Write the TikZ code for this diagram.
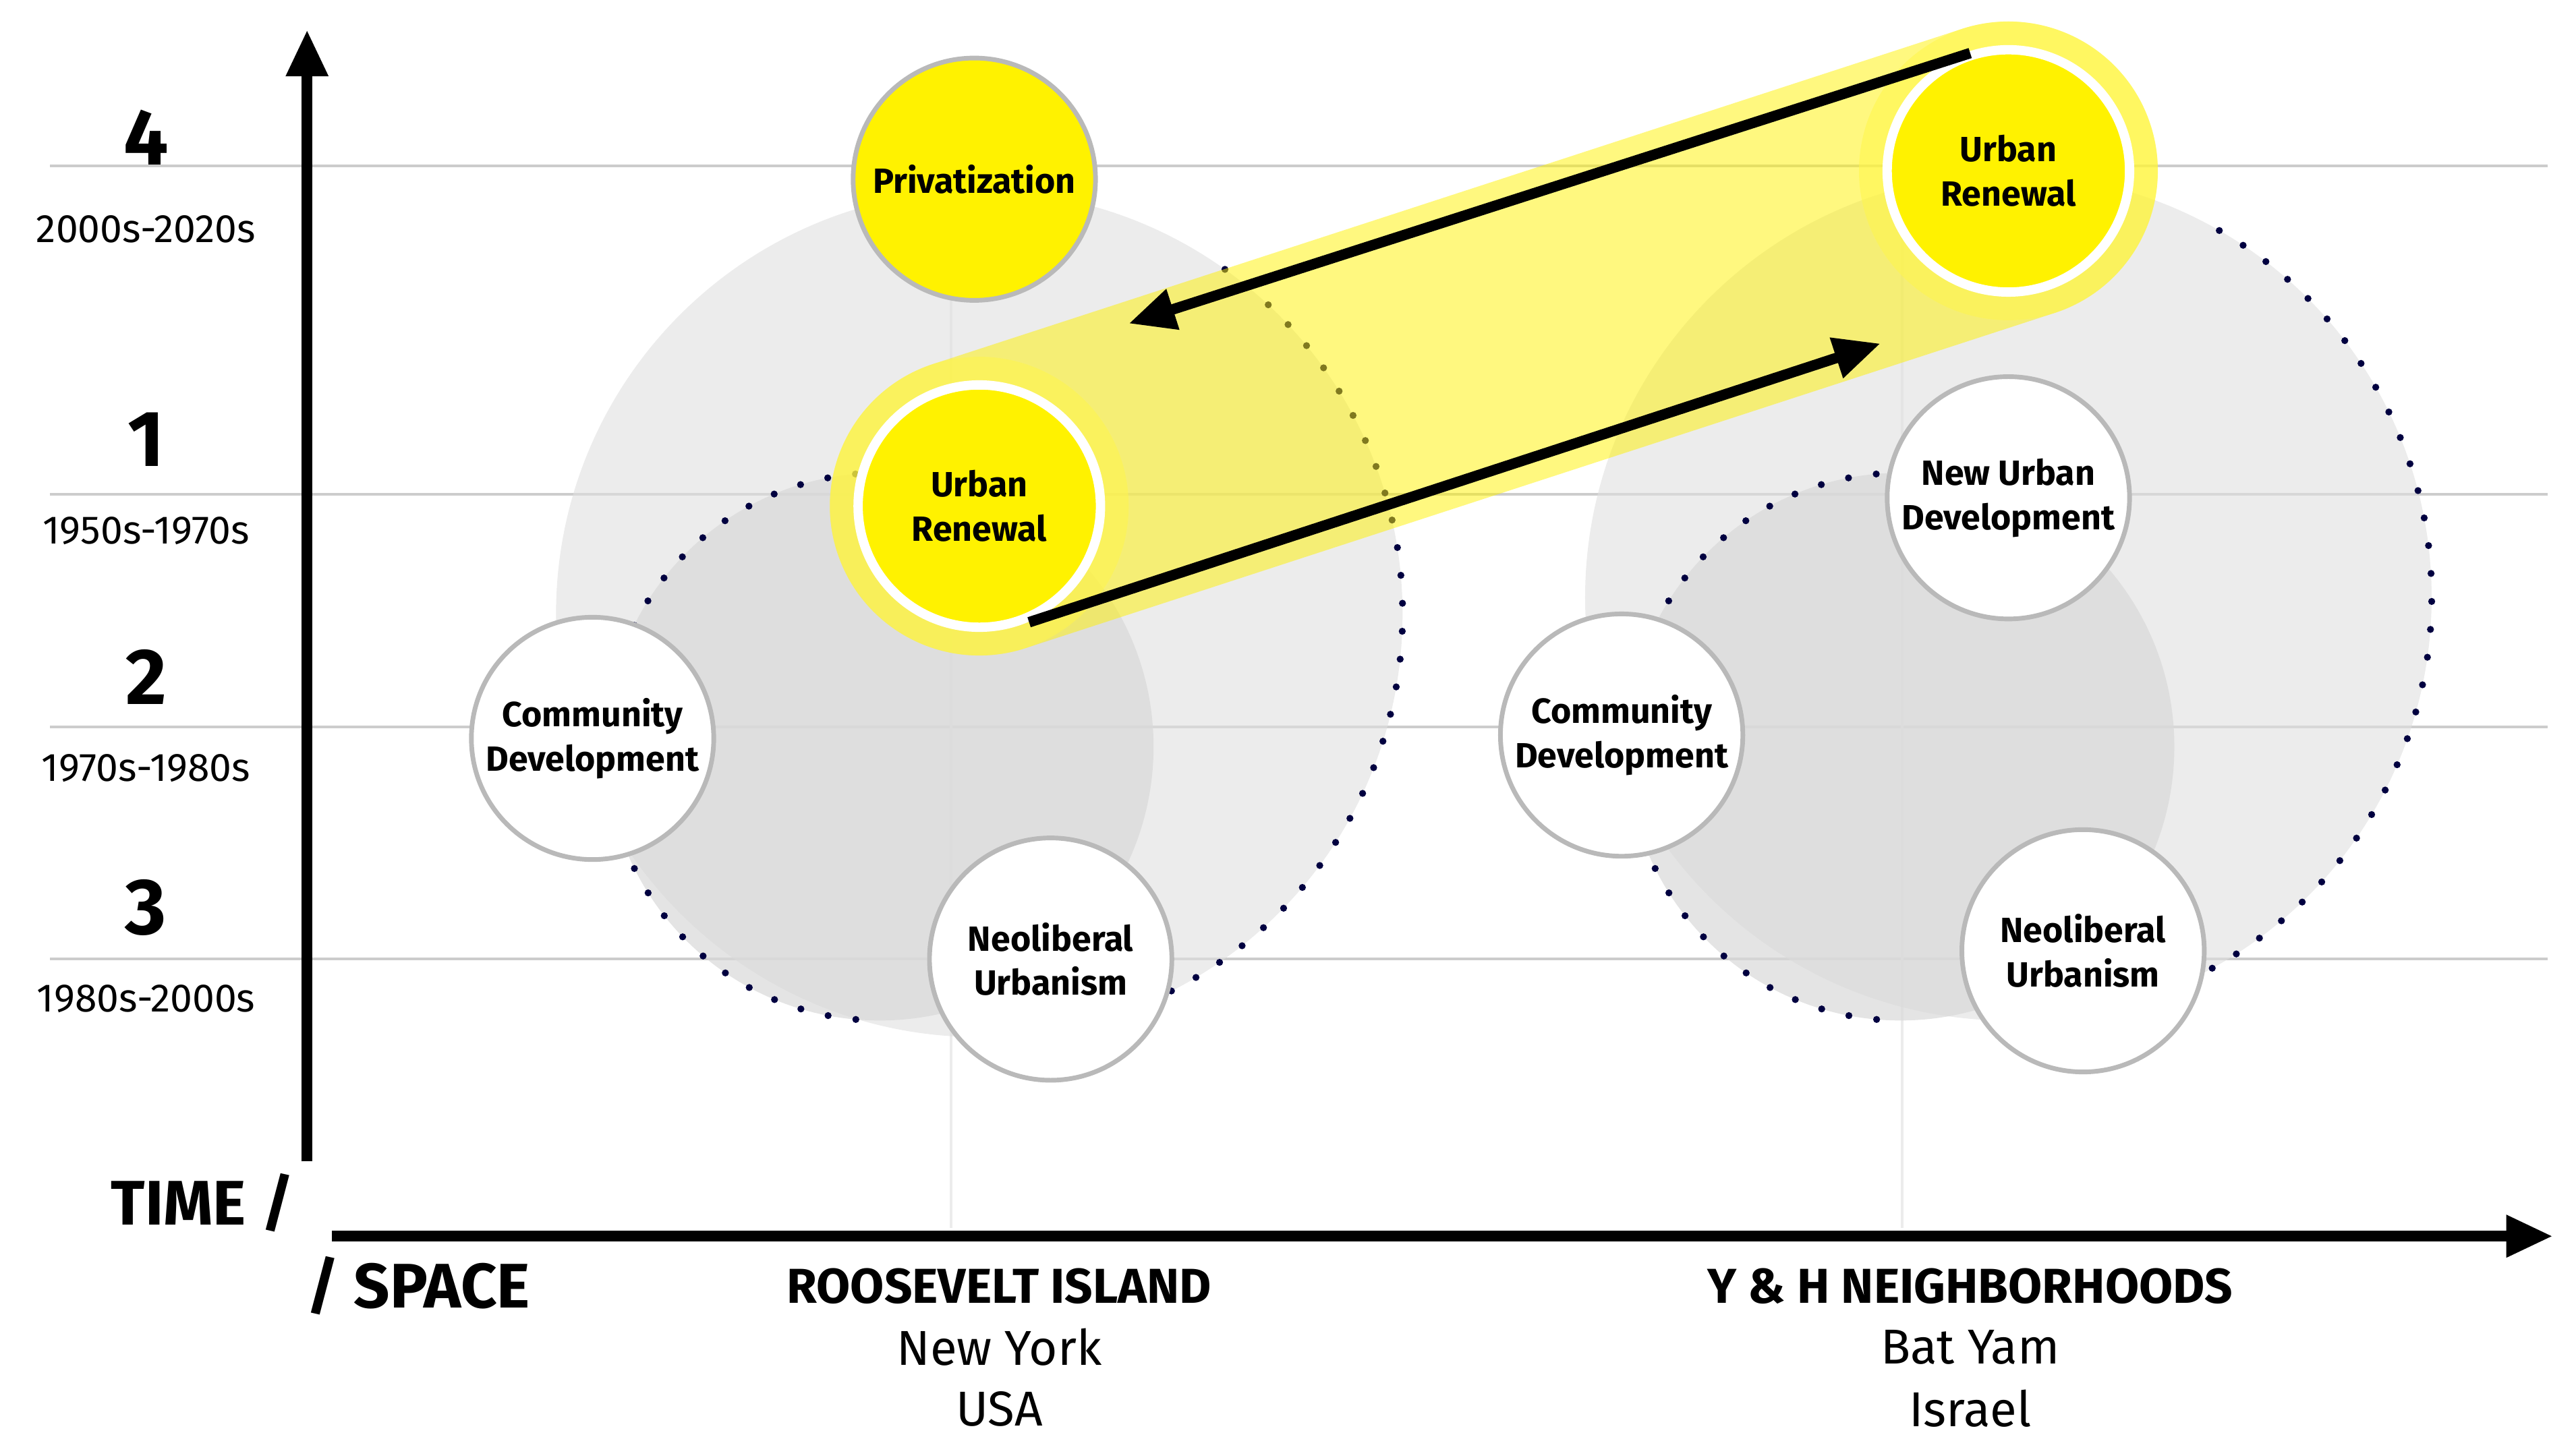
\documentclass[tikz,border=0pt]{standalone}
\usepackage{fontspec}
\setmainfont{Fira Sans}
\usetikzlibrary{arrows.meta}

\tikzset{
    era/.style={circle, draw=gray!55, line width=2pt, fill=white, minimum size=3.65cm,
        inner sep=0pt, align=center, font=\fontsize{15}{19}\selectfont\bfseries},
    hot/.style={era, fill=yellow},
    grid/.style={gray!40, line width=1.2pt},
    dots/.style={draw=blue!25!black, line width=3pt, dash pattern=on 0pt off 12pt, line cap=round},
    big/.style={-{Triangle[length=0.7cm,width=0.6cm]}, line width=4.5pt},
    place/.style={font=\fontsize{21}{24}\selectfont},
}

\begin{document}
\begin{tikzpicture}[x=0.025cm, y=-0.025cm]

    \useasboundingbox (0,0) rectangle (1552,866);

    % grid
    \foreach \y in {100,298,438,578} {
        \draw[grid] (30,\y) -- (1535,\y);
    }
    \foreach \x in {573,1146} {
        \draw[gray!15, line width=1pt] (\x,100) -- (\x,740);
    }

    % shaded areas
    \fill[gray!25, opacity=0.6] (590,370) circle (255);
    \fill[gray!30, opacity=0.7] (530,450) circle (165);
    \fill[gray!25, opacity=0.6] (1210,360) circle (255);
    \fill[gray!30, opacity=0.7] (1145,450) circle (165);
    \draw[dots] (590,370) ++(63:255) arc[start angle=63, end angle=-58, radius=255];
    \draw[dots] (530,450) ++(95:165) arc[start angle=95, end angle=280, radius=165];
    \draw[dots] (1210,360) ++(65:255) arc[start angle=65, end angle=-62, radius=255];
    \draw[dots] (1145,450) ++(95:165) arc[start angle=95, end angle=280, radius=165];

    % axes
    \coordinate (t0) at (185,700);
    \coordinate (t1) at (185,18);
    \coordinate (s0) at (200,745);
    \coordinate (s1) at (1538,745);
    \draw[big] (t0) -- (t1);
    \draw[big] (s0) -- (s1);

    \foreach \y/\n/\d in {83/4/2000s-2020s, 265/1/1950s-1970s, 408/2/1970s-1980s, 547/3/1980s-2000s} {
        \node at (88,\y) {\fontsize{34}{36}\selectfont\bfseries \n};
        \node at (88,\y+55) {\fontsize{17}{20}\selectfont \d};
    }
    \node (time) at (122,725) {\fontsize{27}{30}\selectfont\bfseries TIME /};
    \node (space) at (252,775) {\fontsize{27}{30}\selectfont\bfseries / SPACE};

    \node[place, font=\fontsize{21}{24}\selectfont\bfseries] (ri) at (602,775) {ROOSEVELT ISLAND};
    \node[place] (riCity) at (602,812) {New York};
    \node[place] (riLand) at (602,849) {USA};
    \node[place, font=\fontsize{21}{24}\selectfont\bfseries] (yh) at (1187,775) {Y \& H NEIGHBORHOODS};
    \node[place] (yhCity) at (1187,812) {Bat Yam};
    \node[place] (yhLand) at (1187,849) {Israel};

    % yellow band
    \draw[yellow, opacity=0.5, line width=4.5cm, line cap=round] (590,305) -- (1210,103);
    \fill[yellow!70, opacity=0.6] (590,305) circle (90);
    \fill[yellow!70, opacity=0.6] (1210,103) circle (90);

    % eras
    \node[hot] (priv) at (587,108) {Privatization};
    \node[hot, draw=white, line width=4pt] (urA) at (590,305) {Urban\\Renewal};
    \node[hot, draw=white, line width=4pt] (urB) at (1210,103) {Urban\\Renewal};
    \node[era] (cdA) at (357,445) {Community\\Development};
    \node[era] (nuA) at (633,578) {Neoliberal\\Urbanism};
    \node[era] (nud) at (1210,300) {New Urban\\Development};
    \node[era] (cdB) at (977,443) {Community\\Development};
    \node[era] (nuB) at (1255,573) {Neoliberal\\Urbanism};

    % transfer arrows
    \coordinate (a0) at (1187,32);
    \coordinate (a1) at (680,195);
    \coordinate (b0) at (620,375);
    \coordinate (b1) at (1133,207);
    \draw[big] (a0) -- (a1);
    \draw[big] (b0) -- (b1);

\end{tikzpicture}
\end{document}
